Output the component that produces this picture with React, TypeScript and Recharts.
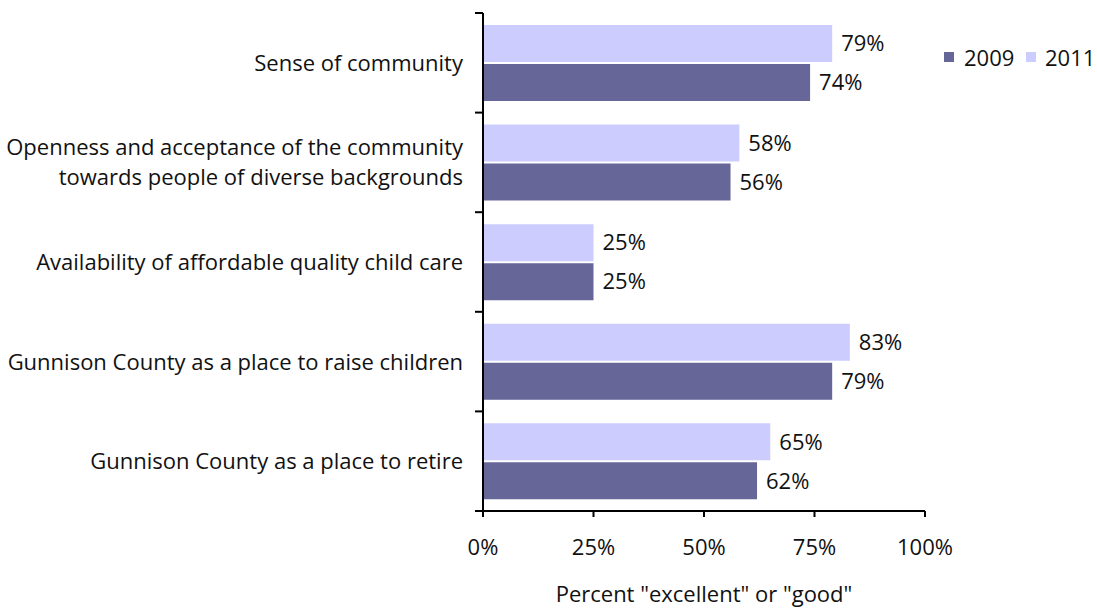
import React from "react";
import { BarChart, Bar, XAxis, YAxis, LabelList } from "recharts";

const categories: string[][] = [
  ["Sense of community"],
  ["Openness and acceptance of the community", "towards people of diverse backgrounds"],
  ["Availability of affordable quality child care"],
  ["Gunnison County as a place to raise children"],
  ["Gunnison County as a place to retire"],
];
const values2009 = [74, 56, 25, 79, 62];
const values2011 = [79, 58, 25, 83, 65];
const xTicks = [0, 25, 50, 75, 100];

const data = categories.map((c, i) => ({
  name: c.join("\n"),
  y2009: values2009[i],
  y2011: values2011[i],
}));

const FONT = "'Open Sans', Lato, sans-serif";
const FS = 22;
const DARK = "#666699";
const LIGHT = "#CCCCFF";
const TXT = "#111";

const YTick = (props: any) => {
  const { y, payload, index } = props;
  const lines = String(payload.value).split("\n");
  const band = 498 / categories.length;
  const axisX = 483;
  const lh = 30;
  const startY = y - 1 - ((lines.length - 1) * lh) / 2;
  return (
    <g>
      <line x1={axisX - 8} x2={axisX} y1={y - band / 2} y2={y - band / 2} stroke="#000" strokeWidth={2} />
      {index === categories.length - 1 && (
        <line x1={axisX - 8} x2={axisX} y1={y + band / 2} y2={y + band / 2} stroke="#000" strokeWidth={2} />
      )}
      <text x={463} y={startY} textAnchor="end" dominantBaseline="central" fontFamily={FONT} fontSize={FS} fill={TXT}>
        {lines.map((l: string, i: number) => (
          <tspan key={i} x={463} y={startY + i * lh}>
            {l}
          </tspan>
        ))}
      </text>
    </g>
  );
};

const LegendBox = () => (
  <g fontFamily={FONT} fontSize={FS} fill={TXT}>
    <rect x={944} y={52} width={10} height={10} fill={DARK} />
    <text x={964} y={57} dominantBaseline="central">2009</text>
    <rect x={1026} y={52} width={10} height={10} fill={LIGHT} />
    <text x={1045} y={57} dominantBaseline="central">2011</text>
  </g>
);

export default function App() {
  return (
    <div style={{ position: "absolute", left: 0, top: 0, width: 1097, height: 608, background: "#fff" }}>
      <BarChart
        width={1097}
        height={608}
        data={data}
        layout="vertical"
        margin={{ top: 13, right: 172, bottom: 0, left: 0 }}
        barCategoryGap="12%"
        barGap={2}
      >
        <XAxis
          type="number"
          domain={[0, 100]}
          ticks={xTicks}
          tickFormatter={(v: number) => `${v}%`}
          axisLine={{ stroke: "#000", strokeWidth: 2 }}
          tickLine={{ stroke: "#000", strokeWidth: 2 }}
          tickSize={6}
          tickMargin={22}
          height={97}
          tick={{ fontFamily: FONT, fontSize: FS, fill: TXT }}
          label={{
            value: 'Percent "excellent" or "good"',
            position: "insideBottom",
            offset: 6,
            fontFamily: FONT,
            fontSize: FS,
            fill: TXT,
          }}
        />
        <YAxis
          type="category"
          dataKey="name"
          width={483}
          axisLine={{ stroke: "#000", strokeWidth: 2 }}
          tickLine={false}
          tick={<YTick />}
          interval={0}
        />
        <Bar dataKey="y2011" fill={LIGHT} isAnimationActive={false}>
          <LabelList
            dataKey="y2011"
            position="right"
            offset={9}
            formatter={(v: any) => `${v}%`}
            style={{ fontFamily: FONT, fontSize: FS, fill: TXT }}
          />
        </Bar>
        <Bar dataKey="y2009" fill={DARK} isAnimationActive={false}>
          <LabelList
            dataKey="y2009"
            position="right"
            offset={9}
            formatter={(v: any) => `${v}%`}
            style={{ fontFamily: FONT, fontSize: FS, fill: TXT }}
          />
        </Bar>
        <LegendBox />
      </BarChart>
    </div>
  );
}
